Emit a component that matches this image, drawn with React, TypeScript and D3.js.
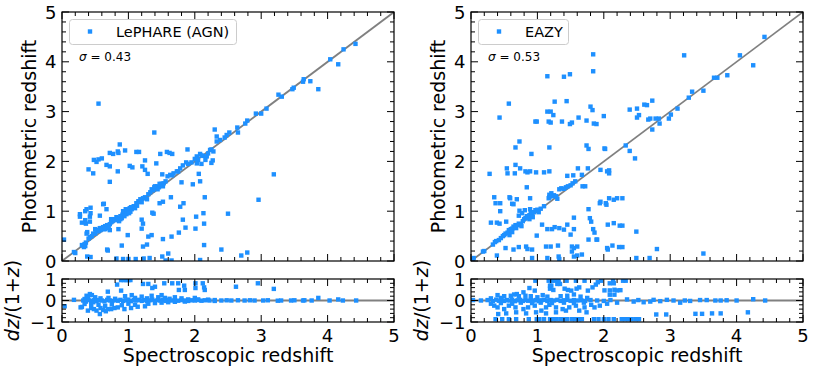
import React from 'react';
import * as d3 from 'd3';

// ---- Data (zspec, zphot) ----
const lephareMain: [number, number][] = [
  [4.42,4.36],[4.24,4.25],[4.04,4.05],[4.16,3.95],[3.86,3.45],[3.74,3.61],[3.64,3.65],[3.63,3.60],[3.49,3.48],[3.47,3.45],
  [3.31,3.30],[3.26,3.34],[3.08,3.06],[3.00,2.96],[2.92,2.96],[2.79,2.82],[2.76,2.76],[2.64,2.68],[2.65,2.58],[2.52,2.58],
  [2.48,2.53],[2.45,2.48],[2.38,2.43],[2.33,2.40],[2.30,2.64],[2.33,2.50],[2.23,2.23],[2.25,2.24],[2.28,2.20],[2.20,2.16],
  [2.13,2.11],[2.08,2.15],[2.03,2.10],[2.05,2.03],[2.03,1.96],[2.27,2.02],[2.18,2.10],[2.10,1.95],[2.25,1.97],[2.16,2.03],
  [0.55,3.16],[1.39,2.58],[0.87,2.34],[0.84,2.20],[0.95,2.22],[0.72,2.17],[0.77,2.15],[0.85,2.17],[1.12,2.19],[1.16,2.19],
  [1.48,2.15],[1.58,2.19],[1.62,2.17],[1.66,2.15],[1.89,2.24],[0.55,2.04],[0.60,2.06],[0.52,1.99],[0.48,2.03],[0.67,1.93],
  [0.72,1.90],[0.40,1.84],[0.47,1.76],[0.84,1.80],[1.02,1.91],[1.06,1.88],[1.21,1.90],[1.25,1.83],[1.29,1.75],[1.25,2.02],
  [1.42,1.96],[1.51,1.74],[1.75,1.80],[0.72,1.59],[0.62,1.14],[0.35,1.00],[0.27,0.94],[0.43,1.07],[0.43,0.96],[0.37,1.04],
  [0.30,0.77],[0.27,0.89],[0.35,0.82],[0.42,0.79],[0.36,0.75],[0.42,0.89],[0.63,1.15],[0.67,1.04],
  [0.03,0.43],[0.18,0.18],[0.38,0.09],[0.43,0.08],[0.68,0.23],[0.82,0.05],[0.92,0.04],[1.00,0.04],[1.11,0.04],[1.23,0.05],
  [1.32,0.06],[1.51,0.09],[1.56,0.01],[1.65,0.01],[2.08,0.02],[2.70,0.11],[2.79,0.17],[2.40,0.23],[2.14,0.32],[1.60,0.15],
  [1.22,0.29],[1.28,0.33],[0.90,0.31],[0.99,0.52],[1.35,0.52],[1.52,0.44],[1.65,0.49],[1.76,0.57],[1.82,0.83],[1.86,0.67],
  [2.01,0.65],[2.02,0.89],[2.14,0.75],[2.13,0.96],[2.50,0.95],[2.15,1.28],[2.08,1.60],[1.97,1.54],[2.06,1.75],[1.80,1.58],
  [1.64,1.28],[1.52,1.19],[1.47,1.16],[1.78,1.09],[1.36,0.97],[1.38,0.95],[1.20,0.83],[1.22,0.75],[1.20,0.65],[2.96,1.23],
  [3.19,1.74],[0.85,0.64],[0.74,0.84],[0.57,0.91],[0.32,0.31],[0.69,0.21],[1.30,0.49],[1.83,1.16],[0.50,0.64],
  [0.20,0.16],[0.30,0.32],[0.33,0.28],[0.34,0.34],[0.35,0.30],[0.36,0.37],[0.37,0.55],[0.38,0.58],[0.40,0.45],[0.42,0.48],
  [0.45,0.50],[0.47,0.55],[0.50,0.55],[0.52,0.60],[0.55,0.62],[0.57,0.66],[0.58,0.62],[0.60,0.66],[0.62,0.68],[0.63,0.64],
  [0.65,0.70],[0.66,0.66],[0.68,0.72],[0.70,0.67],[0.72,0.74],[0.72,0.62],[0.74,0.78],[0.76,0.80],[0.78,0.84],[0.80,0.82],
  [0.82,0.88],[0.84,0.86],[0.86,0.80],[0.88,0.90],[0.90,0.86],[0.91,0.93],[0.93,0.96],[0.95,1.00],[0.96,1.04],[0.98,0.98],
  [1.00,1.02],[1.02,1.06],[1.03,0.99],[1.05,1.04],[1.08,1.10],[1.12,1.16],[1.15,1.20],[1.18,1.24],[1.20,1.18],[1.22,1.26],
  [1.25,1.28],[1.28,1.24],[1.30,1.34],[1.33,1.38],[1.35,1.44],[1.37,1.42],[1.39,1.48],[1.41,1.46],[1.43,1.50],[1.46,1.48],
  [1.48,1.52],[1.50,1.55],[1.53,1.56],[1.56,1.60],[1.59,1.70],[1.63,1.73],[1.66,1.72],[1.68,1.76],[1.73,1.80],[1.78,1.86],
  [1.82,1.92],[1.87,1.98],[1.90,1.95],[1.95,1.98],[2.00,2.05],[2.10,2.12],[0.92,1.00],[0.97,0.94],[1.01,0.96],[1.04,1.08],
  [0.94,0.90],[0.88,0.84],[1.10,1.06],[1.13,1.11],[1.40,1.50],[1.44,1.44],[1.47,1.55],[1.52,1.50],[0.55,0.60],[0.60,0.66],
  [0.65,0.64],[0.70,0.67]
];

const lephareResid: [number, number][] = [
  [0.89,0.95],[0.93,0.95],[0.97,0.95],[1.00,0.95],[1.03,0.95],[0.83,0.74],[0.89,0.46],[0.69,0.41],[1.22,0.77],[1.30,0.77],
  [1.40,0.64],[1.36,0.58],[1.54,0.80],[1.66,0.80],[1.75,0.80],[1.84,0.69],[1.76,0.49],[1.85,0.49],[2.01,0.80],[2.01,0.58],
  [2.12,0.80],[2.14,0.61],[2.15,0.49],[2.62,0.64],[2.95,0.80],[3.19,0.54],
  [0.42,0.30],[0.37,0.22],[0.39,0.14],[0.34,0.07],[0.45,0.25],[0.50,0.15],[0.58,0.10],[0.70,0.12],[0.80,0.08],[0.95,0.20],
  [1.05,0.25],[1.10,0.12],[1.20,0.18],[1.28,0.10],[1.35,0.22],[1.45,0.15],[1.50,0.25],[1.55,0.12],[1.62,0.08],[1.70,0.15],
  [1.80,0.10],[1.90,0.05],[2.00,0.12],[2.05,0.05],[2.20,0.04],[2.30,0.02],
  [0.18,0.03],[0.32,0.00],[0.36,-0.05],[0.40,0.02],[0.44,-0.02],[0.48,0.01],[0.52,-0.03],[0.56,0.02],[0.60,0.00],[0.64,-0.04],
  [0.68,0.03],[0.72,0.00],[0.76,-0.02],[0.80,0.02],[0.84,-0.01],[0.88,0.03],[0.92,-0.02],[0.96,0.01],[1.00,0.04],[1.04,-0.03],
  [1.08,0.02],[1.12,0.00],[1.16,0.03],[1.20,-0.02],[1.24,0.02],[1.28,-0.04],[1.32,0.01],[1.36,0.04],[1.40,-0.02],[1.44,0.02],
  [1.48,0.00],[1.52,0.03],[1.56,-0.02],[1.60,0.02],[1.65,0.00],[1.70,0.02],[1.75,-0.01],[1.80,0.02],[1.85,0.00],[1.90,-0.02],
  [1.95,0.01],[2.00,0.00],[2.05,0.02],[2.10,-0.01],[2.15,0.01],[2.22,0.00],[2.30,-0.02],
  [2.40,0.00],[2.48,0.01],[2.55,0.00],[2.65,0.01],[2.75,0.00],[2.83,0.01],[2.90,0.00],[3.03,0.00],[3.10,0.01],[3.25,-0.01],
  [3.30,0.00],[3.45,0.00],[3.50,0.01],[3.63,0.00],[3.65,0.01],[3.76,0.00],[3.86,0.12],[4.03,0.00],[4.16,0.05],[4.23,0.00],
  [4.43,0.00],
  [0.04,-0.27],[0.28,-0.32],[0.30,-0.30],[0.39,-0.47],[0.44,-0.35],[0.52,-0.47],[0.57,-0.63],[0.62,-0.44],[0.69,-0.40],[0.74,-0.40],
  [0.79,-0.35],[0.84,-0.32],[0.94,-0.40],[1.04,-0.35],[1.14,-0.29],[1.25,-0.27],[0.34,-0.16],[0.44,-0.16],[0.47,-0.08],[0.55,-0.20],
  [0.65,-0.25],[0.75,-0.18],[0.90,-0.22],[1.00,-0.15],[1.10,-0.20],[1.30,-0.15],[1.40,-0.12],[1.50,-0.10],[1.60,-0.08],[1.70,-0.06],
  [1.85,-0.05],[0.58,-0.35],[0.66,-0.50],[0.48,-0.40]
];

const eazyMain: [number, number][] = [
  [4.42,4.50],[4.05,4.13],[4.25,3.93],[3.86,3.73],[3.71,3.68],[3.66,3.68],[3.50,3.42],[3.33,3.40],[3.28,3.28],[3.11,3.06],
  [3.01,2.94],[2.98,2.86],[3.21,4.13],[3.50,0.15],[2.83,2.86],[2.84,2.76],[2.78,2.86],[2.73,2.64],[2.70,2.86],[2.67,2.84],
  [2.73,3.22],[2.65,3.13],[2.61,3.14],[2.50,3.06],[2.39,3.04],[2.50,2.88],[2.53,2.93],[2.33,2.32],[2.39,2.21],[2.47,2.06],
  [2.49,0.59],[2.49,0.06],[2.69,0.06],[2.80,0.24],[2.00,2.91],[2.02,2.25],[1.95,1.83],[2.08,1.82],[2.08,1.76],[2.05,1.80],
  [1.84,4.15],[1.84,3.81],[1.80,3.10],[1.83,3.03],[1.85,2.76],[1.89,2.75],[1.74,2.82],[1.62,2.88],[1.52,2.78],[1.49,2.75],
  [1.44,3.21],[1.49,3.75],[1.40,3.70],[1.15,3.71],[1.26,3.20],[1.15,3.00],[1.20,3.00],[1.24,2.93],[1.17,2.80],[1.20,2.78],
  [1.37,2.80],[0.97,2.80],[0.99,2.80],[0.57,3.16],[0.43,2.88],[0.73,2.40],[0.67,2.28],[0.91,2.15],[1.18,2.28],[1.74,2.32],
  [1.77,2.25],[2.01,2.26],[0.28,1.75],[0.54,1.86],[0.55,1.76],[0.67,1.93],[0.74,1.86],[0.66,1.76],[0.82,1.80],[0.85,1.78],
  [0.89,1.80],[0.98,1.78],[1.10,1.78],[1.18,1.80],[1.45,1.71],[1.54,1.72],[1.67,1.73],[1.76,1.86],[1.61,1.86],[0.89,1.26],
  [0.84,1.48],[0.35,1.28],[0.37,1.16],[0.44,1.16],[0.44,1.00],[0.58,1.28],[0.62,1.15],[0.69,1.24],[0.73,1.01],[0.72,0.91],
  [0.77,0.96],[0.30,0.77],[0.39,0.77],[0.43,0.75],[0.53,0.79],[0.64,0.69],[0.99,0.51],[1.07,0.73],[1.18,1.33],[1.21,1.36],
  [1.18,1.28],[1.30,1.25],[1.15,0.64],[1.22,0.64],[1.26,0.68],[1.33,0.66],[1.40,0.63],[1.45,0.73],[1.55,0.64],[1.55,0.87],
  [1.77,1.04],[1.79,0.86],[1.81,0.79],[1.84,0.64],[1.86,0.57],[1.89,0.43],[1.94,1.16],[1.95,1.19],[2.04,1.13],[2.03,1.16],
  [2.08,1.26],[2.15,1.23],[2.20,1.26],[2.28,1.26],[2.06,0.73],[2.15,0.76],[2.24,0.71],[2.28,0.71],[2.06,0.23],[2.05,0.26],
  [2.13,0.31],[2.23,0.28],[2.28,0.28],[0.39,0.11],[0.18,0.19],[0.04,0.06],[0.52,0.26],[0.64,0.23],[0.72,0.28],[0.83,0.29],
  [0.85,0.24],[0.92,0.23],[0.92,0.06],[1.15,0.06],[1.32,0.09],[1.33,0.04],[1.13,0.29],[1.20,0.29],[1.31,0.31],[1.52,0.29],
  [1.55,0.26],[1.60,0.29],[1.55,0.09],[1.60,0.11],[1.67,0.13],[1.52,0.19],[1.50,0.53],[1.77,0.43],[1.90,0.43],[0.81,1.02],
  [0.89,1.04],[0.59,1.26],[0.64,1.14],
  [0.03,0.03],[0.20,0.20],[0.33,0.33],[0.36,0.38],[0.38,0.40],[0.42,0.42],[0.45,0.46],[0.48,0.50],[0.50,0.52],[0.52,0.55],
  [0.55,0.57],[0.57,0.62],[0.60,0.64],[0.62,0.65],[0.65,0.68],[0.67,0.72],[0.70,0.72],[0.72,0.75],[0.75,0.73],[0.78,0.80],
  [0.80,0.84],[0.82,0.86],[0.84,0.90],[0.86,0.88],[0.88,0.92],[0.90,0.96],[0.92,0.94],[0.95,0.98],[0.97,1.02],[1.00,1.03],
  [1.02,0.98],[1.05,1.05],[1.10,1.10],[1.17,1.26],[1.22,1.30],[1.25,1.32],[1.28,1.30],[1.33,1.44],[1.36,1.46],[1.40,1.45],
  [1.43,1.48],[1.46,1.50],[1.50,1.52],[1.53,1.56],[1.57,1.60],[1.68,1.50],[1.72,1.50],[0.62,0.58],[0.68,0.66],[0.58,0.52],
  [0.76,0.70],[0.88,0.84],[0.93,0.88]
];

const eazyResid: [number, number][] = [
  [0.37,-0.87],[0.47,-0.87],[0.57,-0.87],[0.68,-0.87],[0.87,-0.87],[0.99,-0.87],[1.03,-0.87],[1.10,-0.87],[1.19,-0.87],[1.24,-0.87],
  [1.29,-0.87],[1.35,-0.87],[1.40,-0.87],[1.45,-0.87],[1.52,-0.87],[1.57,-0.87],[1.62,-0.87],[1.67,-0.87],[1.85,-0.87],[1.92,-0.87],
  [2.00,-0.87],[2.07,-0.87],[2.15,-0.87],[2.27,-0.87],[2.32,-0.87],[2.37,-0.87],[2.42,-0.87],[2.48,-0.87],[2.53,-0.87],
  [2.79,-0.65],[2.94,-0.65],[3.38,-0.62],[3.48,-0.62],[3.63,-0.60],[3.76,-0.60],[4.17,-0.55],
  [0.97,0.92],[1.17,0.92],[1.22,0.92],[1.27,0.92],[1.32,0.92],[1.44,0.92],[1.58,0.92],[1.71,0.92],[1.96,0.92],[2.14,0.92],
  [2.29,0.92],[2.33,0.92],
  [0.96,0.46],[0.88,0.58],[0.79,0.38],[0.69,0.30],[1.19,0.69],[1.21,0.69],[1.34,0.77],[1.30,0.77],[1.19,0.55],[1.24,0.49],
  [1.41,0.55],[1.46,0.49],[1.51,0.46],[1.59,0.55],[1.63,0.61],[1.76,0.46],[1.83,0.61],[1.88,0.74],[1.91,0.85],[2.09,0.80],
  [2.15,0.80],[2.01,0.47],[2.09,0.47],[2.16,0.50],[2.20,0.47],[2.25,0.48],[2.09,0.27],[2.16,0.27],[0.40,0.25],[0.50,0.20],
  [0.60,0.22],[0.65,0.28],[0.72,0.20],[0.82,0.22],[0.90,0.20],[1.00,0.15],[1.08,0.25],[1.15,0.18],[1.35,0.20],[1.45,0.22],
  [1.55,0.28],[1.65,0.18],[1.75,0.12],[0.45,0.12],[0.30,0.10],
  [0.03,0.02],[0.15,0.00],[0.25,0.02],[0.33,-0.03],[0.38,0.04],[0.42,-0.01],[0.46,0.03],[0.50,-0.02],[0.54,0.02],[0.58,0.00],
  [0.62,0.04],[0.66,-0.03],[0.70,0.01],[0.74,0.03],[0.78,-0.02],[0.82,0.02],[0.86,-0.01],[0.90,0.03],[0.94,0.00],[0.98,0.02],
  [1.02,-0.03],[1.06,0.01],[1.10,0.03],[1.15,-0.02],[1.20,0.02],[1.25,0.00],[1.30,0.03],[1.35,-0.02],[1.40,0.01],[1.45,0.03],
  [1.50,-0.01],[1.55,0.02],[1.60,0.00],[1.66,0.01],[1.72,-0.02],[1.80,0.02],[1.90,0.00],[2.00,-0.02],[2.10,0.02],[2.35,0.05],
  [2.45,-0.05],[2.52,0.02],[2.60,-0.08],[2.70,-0.05],[2.75,0.03],[2.85,-0.03],[2.95,0.03],[3.05,0.00],[3.15,-0.10],[3.22,0.00],
  [3.30,-0.02],[3.45,0.02],[3.55,0.02],[3.68,0.00],[3.76,0.00],[3.85,0.01],[4.00,0.00],[4.25,0.06],[4.43,0.00],
  [0.35,-0.24],[0.40,-0.32],[0.50,-0.40],[0.57,-0.24],[0.67,-0.32],[0.79,-0.40],[0.86,-0.32],[0.96,-0.24],[1.06,-0.47],[1.13,-0.32],
  [1.18,-0.20],[1.28,-0.32],[1.38,-0.40],[1.48,-0.32],[1.58,-0.24],[1.71,-0.32],[1.81,-0.20],[1.86,-0.32],[1.94,-0.24],[0.41,-0.63],
  [0.53,-0.60],[0.68,-0.55],[0.83,-0.60],[0.98,-0.55],[1.13,-0.60],[1.28,-0.55],[1.43,-0.47],[1.63,-0.47],[1.74,-0.55],[0.30,-0.15],
  [0.45,-0.12],[0.62,-0.15],[0.75,-0.10],[0.92,-0.12],[1.05,-0.10],[1.22,-0.12],[1.40,-0.10],[1.55,-0.12],[1.70,-0.10],[2.05,-0.15],
  [2.20,-0.10]
];

const panelNames = ['LePHARE (AGN)', 'EAZY'];
const sigmaValues = ['0.43', '0.53'];
const mainTicks = [0, 1, 2, 3, 4, 5];
const residTicks = [-1, 0, 1];
const residTickLabels = ['\u22121', '0', '1'];

const BLUE = '#1E90FF';
const FONT = 'DejaVu Sans, sans-serif';
const MAIN_TOP = 12, MAIN_BOT = 261, RES_TOP = 279, RES_BOT = 322;

type PanelProps = {
  id: string; x0: number; x1: number; main: [number, number][]; resid: [number, number][];
  name: string; sigma: string; legendW: number;
};

function Ticks({ xs, ys, x0, x1, top, bot, yMinor }: any) {
  const els: any[] = [];
  const majX = mainTicks;
  const minX = d3.range(0, 5.0001, 0.2).filter(v => Math.abs(v - Math.round(v)) > 1e-6);
  majX.forEach((v, i) => {
    const x = xs(v);
    els.push(<line key={'xt' + i} x1={x} x2={x} y1={bot} y2={bot - 7} />);
    els.push(<line key={'xtt' + i} x1={x} x2={x} y1={top} y2={top + 7} />);
  });
  minX.forEach((v, i) => {
    const x = xs(v);
    els.push(<line key={'xm' + i} x1={x} x2={x} y1={bot} y2={bot - 4} />);
    els.push(<line key={'xmt' + i} x1={x} x2={x} y1={top} y2={top + 4} />);
  });
  ys.ticksMaj.forEach((v: number, i: number) => {
    const y = ys(v);
    els.push(<line key={'yt' + i} x1={x0} x2={x0 + 7} y1={y} y2={y} />);
    els.push(<line key={'ytr' + i} x1={x1} x2={x1 - 7} y1={y} y2={y} />);
  });
  yMinor.forEach((v: number, i: number) => {
    const y = ys(v);
    els.push(<line key={'ym' + i} x1={x0} x2={x0 + 4} y1={y} y2={y} />);
    els.push(<line key={'ymr' + i} x1={x1} x2={x1 - 4} y1={y} y2={y} />);
  });
  return <g stroke="#000" strokeWidth={1}>{els}</g>;
}

function Panel({ id, x0, x1, main, resid, name, sigma, legendW }: PanelProps) {
  const xs = d3.scaleLinear().domain([0, 5]).range([x0, x1]);
  const ym: any = d3.scaleLinear().domain([0, 5]).range([MAIN_BOT, MAIN_TOP]);
  ym.ticksMaj = mainTicks;
  const yr: any = d3.scaleLinear().domain([-1, 1]).range([RES_BOT, RES_TOP]);
  yr.ticksMaj = residTicks;
  const mainMinor = d3.range(0, 5.0001, 0.2).filter(v => Math.abs(v - Math.round(v)) > 1e-6);
  const resMinor = d3.range(-1, 1.0001, 0.2).filter(v => Math.abs(v - Math.round(v)) > 1e-6);
  const ms = 4.4;
  const diag = d3.line<number>().x(v => xs(v)).y(v => ym(v));
  const cx = (x0 + x1) / 2;
  return (
    <g>
      <defs>
        <clipPath id={id + 'm'}><rect x={x0} y={MAIN_TOP} width={x1 - x0} height={MAIN_BOT - MAIN_TOP} /></clipPath>
        <clipPath id={id + 'r'}><rect x={x0} y={RES_TOP} width={x1 - x0} height={RES_BOT - RES_TOP} /></clipPath>
      </defs>
      {/* main */}
      <g clipPath={`url(#${id}m)`}>
        <path d={diag([0, 5]) || ''} stroke="#808080" strokeWidth={1.8} fill="none" />
        {main.map((p, i) => (
          <rect key={i} x={xs(p[0]) - ms / 2} y={ym(p[1]) - ms / 2} width={ms} height={ms} fill={BLUE} />
        ))}
      </g>
      <Ticks xs={xs} ys={ym} x0={x0} x1={x1} top={MAIN_TOP} bot={MAIN_BOT} yMinor={mainMinor} />
      <rect x={x0} y={MAIN_TOP} width={x1 - x0} height={MAIN_BOT - MAIN_TOP} fill="none" stroke="#000" strokeWidth={1.2} />
      {mainTicks.map(v => (
        <text key={'yl' + v} x={x0 - 5.5} y={ym(v) + 6.5} textAnchor="end" fontSize={18} fontFamily={FONT}>{v}</text>
      ))}
      {/* legend */}
      <rect x={x0 + 7.5} y={19.5} width={legendW} height={25} rx={3} fill="#fff" fillOpacity={0.8} stroke="#cccccc" strokeWidth={1} />
      <rect x={x0 + 28 - ms / 2} y={31.5 - ms / 2} width={ms} height={ms} fill={BLUE} />
      <text x={x0 + 54} y={37} fontSize={14.5} fontFamily={FONT}>{name}</text>
      <text x={x0 + 17} y={61} fontSize={12} fontFamily={FONT}>
        <tspan fontStyle="italic">σ</tspan> = {sigma}
      </text>
      <text transform={`translate(${x0 - 26},${(MAIN_TOP + MAIN_BOT) / 2}) rotate(-90)`} textAnchor="middle" fontSize={19} fontFamily={FONT}>Photometric redshift</text>
      {/* residual */}
      <g clipPath={`url(#${id}r)`}>
        <line x1={x0} x2={x1} y1={yr(0)} y2={yr(0)} stroke="#808080" strokeWidth={1.8} />
        {resid.map((p, i) => (
          <rect key={i} x={xs(p[0]) - ms / 2} y={yr(p[1]) - ms / 2} width={ms} height={ms} fill={BLUE} />
        ))}
      </g>
      <Ticks xs={xs} ys={yr} x0={x0} x1={x1} top={RES_TOP} bot={RES_BOT} yMinor={resMinor} />
      <rect x={x0} y={RES_TOP} width={x1 - x0} height={RES_BOT - RES_TOP} fill="none" stroke="#000" strokeWidth={1.2} />
      {residTicks.map((v, i) => (
        <text key={'rl' + v} x={x0 - 5.5} y={yr(v) + 6.5} textAnchor="end" fontSize={18} fontFamily={FONT}>{residTickLabels[i]}</text>
      ))}
      {mainTicks.map(v => (
        <text key={'xl' + v} x={xs(v)} y={341.5} textAnchor="middle" fontSize={18} fontFamily={FONT}>{v}</text>
      ))}
      <text transform={`translate(${x0 - 43},${(RES_TOP + RES_BOT) / 2}) rotate(-90)`} textAnchor="middle" fontSize={19} fontFamily={FONT}>
        <tspan fontStyle="italic">dz</tspan>/(1+<tspan fontStyle="italic">z</tspan>)
      </text>
      <text x={cx} y={362} textAnchor="middle" fontSize={19} fontFamily={FONT}>Spectroscopic redshift</text>
    </g>
  );
}

export default function App() {
  return (
    <svg width={814} height={374} style={{ position: 'absolute', left: 0, top: 0, background: '#fff' }}>
      <rect width={814} height={374} fill="#fff" />
      <Panel id="pa" x0={62} x1={394} main={lephareMain} resid={lephareResid} name={panelNames[0]} sigma={sigmaValues[0]} legendW={167} />
      <Panel id="pb" x0={471} x1={803} main={eazyMain} resid={eazyResid} name={panelNames[1]} sigma={sigmaValues[1]} legendW={90} />
    </svg>
  );
}
